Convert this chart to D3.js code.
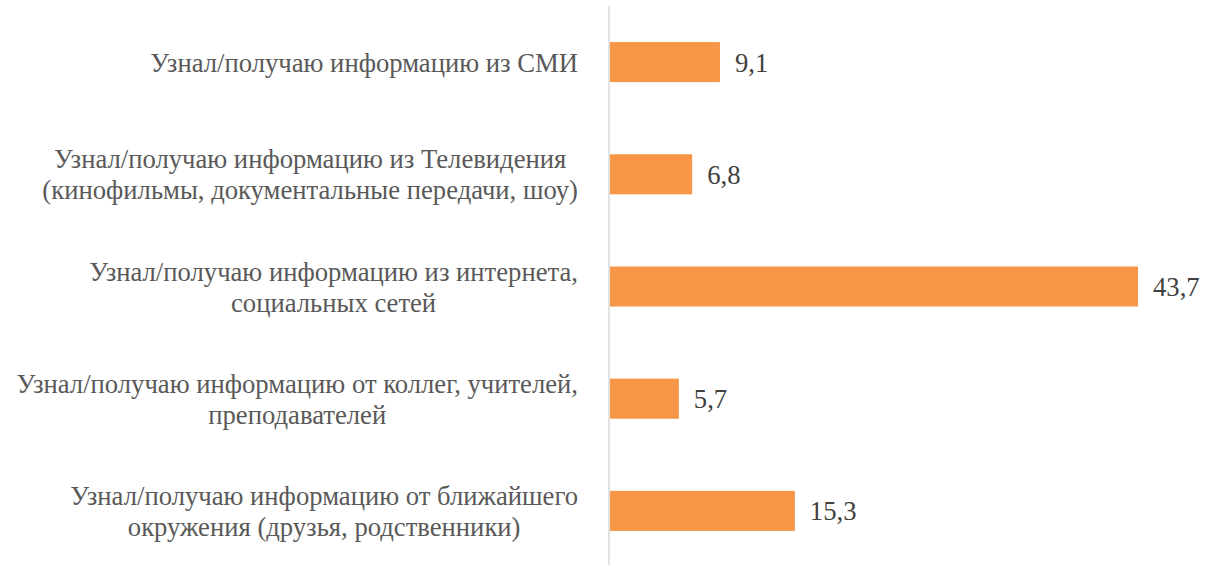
<!DOCTYPE html>
<html>
<head>
<meta charset="utf-8">
<script src="https://cdn.jsdelivr.net/npm/d3@7"></script>
<style>
  body { margin: 0; background: #fff; }
  .lbl { font-family: 'Liberation Serif'; }
</style>
</head>
<body>
<svg id="chart"></svg>
<script>
// categories, each split in lines like the original
const categories = [
    ["Узнал/получаю информацию из СМИ"],
    ["Узнал/получаю информацию из Телевидения ", "(кинофильмы, документальные передачи, шоу)"],
    ["Узнал/получаю информацию из интернета,", "социальных сетей"],
    ["Узнал/получаю информацию от коллег, учителей,", "преподавателей"],
    ["Узнал/получаю информацию от ближайшего", "окружения (друзья, родственники)"]
]
const values = [9.1, 6.8, 43.7, 5.7, 15.3]
const valueLabels = ["9,1", "6,8", "43,7", "5,7", "15,3"]

const w = 1216
const h = 565
const axisX = 610
const labelRight = 578
const fontSize = 26.67
const lineH = 31

const svg = d3.select("#chart").attr("width", w).attr("height", h)

const ids = d3.range(categories.length)

const y = d3.scaleBand().domain(ids).range([6, 567]).paddingInner(0.643).paddingOuter(0.3215)
const x = d3.scaleLinear().domain([0, 43.7]).range([axisX, 1138])

// bars
svg.selectAll("rect.bar").data(ids).enter().append("rect")
    .attr("class", "bar")
    .attr("x", x(0))
    .attr("y", i => y(i))
    .attr("width", i => x(values[i]) - x(0))
    .attr("height", y.bandwidth())
    .attr("fill", "#f79646")

// vertical axis line
svg.append("line")
    .attr("x1", axisX - 1).attr("x2", axisX - 1)
    .attr("y1", 6).attr("y2", 565)
    .attr("stroke", "#d9d9d9").attr("stroke-width", 1.5)

// value labels
svg.selectAll("text.val").data(ids).enter().append("text")
    .attr("class", "lbl")
    .attr("x", i => x(values[i]) + 15)
    .attr("y", i => y(i) + y.bandwidth() / 2 + 9.5)
    .style("font-family", "'Liberation Serif'")
    .style("font-size", fontSize + "px")
    .attr("fill", "#404040")
    .text(i => valueLabels[i])

// category labels: centered lines, block right aligned
ids.forEach(i => {
    const lines = categories[i]
    const g = svg.append("g")
    const texts = lines.map((l, k) => g.append("text")
        .attr("class", "lbl")
        .style("font-family", "'Liberation Serif'")
        .style("font-size", fontSize + "px")
        .attr("fill", "#595959")
        .attr("text-anchor", "middle")
        .attr("y", y(i) + y.bandwidth() / 2 + 9.5 + (k - (lines.length - 1) / 2) * lineH)
        .text(l))
    const maxW = d3.max(texts, t => t.node().getComputedTextLength())
    texts.forEach(t => t.attr("x", labelRight - maxW / 2))
})
</script>
</body>
</html>
